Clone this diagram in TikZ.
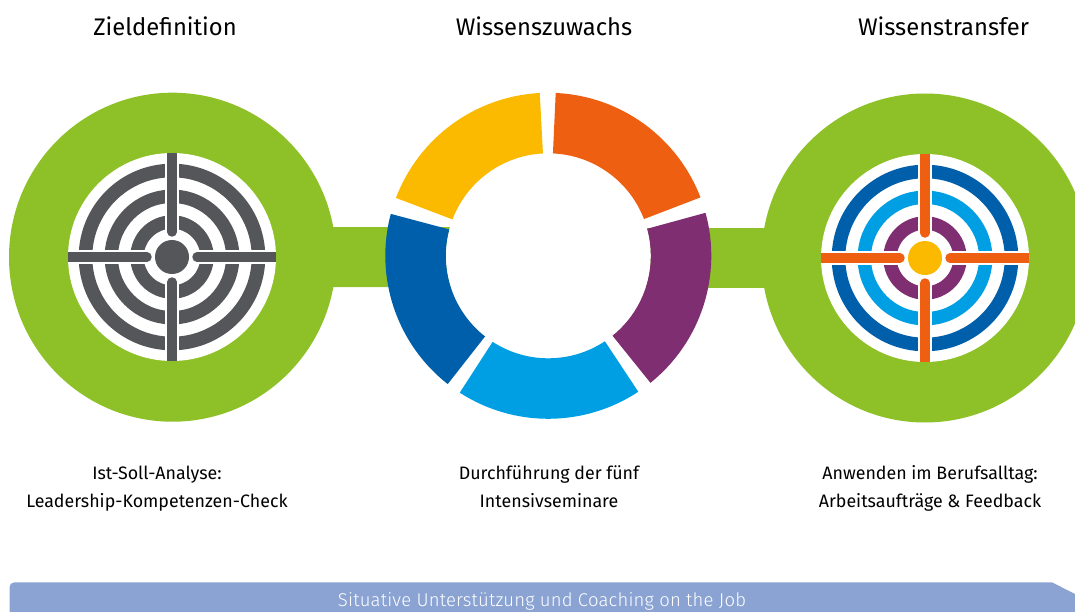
\documentclass[tikz,border=0pt]{standalone}
\usepackage{fontspec}
\usetikzlibrary{shapes.geometric}
\setmainfont{Fira Sans}[FakeStretch=0.99]
\newfontfamily\barfont{Fira Sans Light}[FakeStretch=1.0,LetterSpace=1.0]
\newfontfamily\titlefont{Fira Sans}[FakeStretch=0.99]
\definecolor{cgreen}{HTML}{8DC127}
\definecolor{cgrey}{HTML}{55565A}
\definecolor{cblue}{HTML}{005FAA}
\definecolor{ccyan}{HTML}{009FE3}
\definecolor{cpurple}{HTML}{7F2F71}
\definecolor{corange}{HTML}{EE5F12}
\definecolor{cyellow}{HTML}{FBB900}
\definecolor{cbar}{HTML}{8AA3D3}
\tikzset{
  bigdisc/.style={ellipse,fill=cgreen,minimum width=327pt,minimum height=329pt,inner sep=0pt},
  hole/.style={circle,fill=white,minimum size=205pt,inner sep=0pt},
  face/.style={circle,fill=white,minimum size=208pt,inner sep=0pt},
  link/.style={draw=cgreen,line width=60pt},
  title/.style={font=\titlefont\fontsize{24}{28}\selectfont,text=black,anchor=base,inner sep=0pt},
  body/.style={font=\fontsize{18}{22}\selectfont,text=black,anchor=base,inner sep=0pt},
  bartext/.style={font=\barfont\fontsize{18.5}{22}\selectfont,text=white,anchor=base,inner sep=0pt},
}
% #1 centre, #2 outer ring, #3 middle ring, #4 inner ring, #5 cross, #6 centre disc
\newcommand{\targetface}[6]{%
  \begin{scope}[shift={(#1)}]
    \draw[#2,line width=13.6pt] (0,0) circle[radius=86.5pt];
    \draw[#3,line width=13.4pt] (0,0) circle[radius=60.7pt];
    \draw[#4,line width=13.4pt] (0,0) circle[radius=35pt];
    \draw[white,line width=14.3pt] (-100pt,0) -- (100pt,0) (0,-100pt) -- (0,100pt);
    \fill[white] (0,0) circle[radius=27pt];
    \fill[#6] (0,0) circle[radius=17pt];
    \foreach \a in {0,90,180,270}{
      \draw[#5,line width=9.4pt,line cap=round] (\a:25pt) -- (\a:95pt);
      \draw[#5,line width=9.4pt] (\a:90pt) -- (\a:103.8pt);
    }
  \end{scope}}
\newcommand{\seg}[3]{%
  \fill[#1] (donutc) ++(#2:163pt) arc[start angle=#2,end angle=#3,radius=163pt]
    -- ++(#3+180:60.5pt) arc[start angle=#3,end angle=#2,radius=102.5pt] -- cycle;}
\begin{document}
\begin{tikzpicture}[x=1pt,y=-1pt]
\useasboundingbox (0,0) rectangle (1075,612);
\clip (0,0) rectangle (1075,612);
\coordinate (donutc) at (548.3,255.8);
\node[bigdisc] (goal) at (172.5,257.2) {};
\node[bigdisc] (transfer) at (925,258) {};
\coordinate (goalc) at (172,257);
\coordinate (transferc) at (925,258);
\coordinate (linkl) at (548.3,257);
\coordinate (linkr) at (548.3,258);
\draw[link] (goal.center) -- (linkl);
\draw[link] (linkr) -- (transfer.center);
\node[hole] (donuthole) at (donutc) {};
\seg{corange}{87.4}{21}
\seg{cpurple}{15.3}{-51.2}
\seg{ccyan}{-56.5}{-122.9}
\seg{cblue}{-128.1}{-194.9}
\seg{cyellow}{-200.8}{-267}
\node[face] (goalface) at (goalc) {};
\node[face] (transferface) at (transferc) {};
\targetface{goalc}{cgrey}{cgrey}{cgrey}{cgrey}{cgrey}
\targetface{transferc}{cblue}{ccyan}{cpurple}{corange}{cyellow}
\node[title] (t1) at (165,36) {Zieldefinition};
\node[title] (t2) at (544,36) {Wissenszuwachs};
\node[title] (t3) at (943.5,36) {Wissenstransfer};
\node[body] (b1a) at (157,479.5) {Ist-Soll-Analyse:};
\node[body] (b1b) at (157,507.7) {Leadership-Kompetenzen-Check};
\node[body] (b2a) at (549,479.5) {Durchführung der fünf};
\node[body] (b2b) at (549,507.7) {Intensivseminare};
\node[body] (b3a) at (930,479.5) {Anwenden im Berufsalltag:};
\node[body] (b3b) at (930,507.7) {Arbeitsaufträge \& Feedback};
\fill[cbar] (9.5,612) -- (9.5,587.3) .. controls (9.5,584.5) and (11.5,582.3) .. (14.5,582.3) -- (1052,582.3) -- (1075,594) -- (1075,612) -- cycle;
\node[bartext] (bar) at (542,606.7) {Situative Unterstützung und Coaching on the Job};
\end{tikzpicture}
\end{document}
